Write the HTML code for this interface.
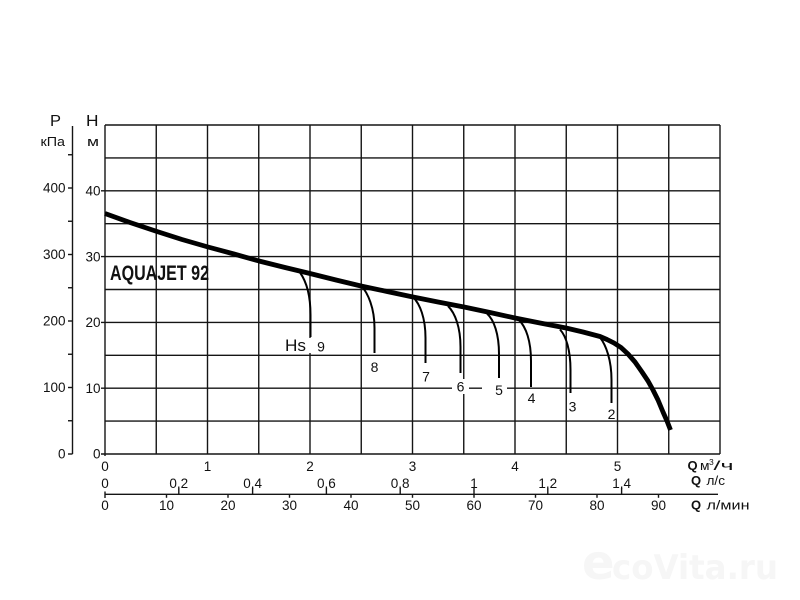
<!DOCTYPE html>
<html><head><meta charset="utf-8"><style>
html,body{margin:0;padding:0;background:#fff;}
svg{display:block;}
text{font-family:"Liberation Sans",Arial,sans-serif;fill:#111;}
</style></head><body>
<svg width="800" height="600" viewBox="0 0 800 600" xmlns="http://www.w3.org/2000/svg">
<rect width="800" height="600" fill="#fff"/>
<!-- watermark -->
<text x="582" y="579" font-size="48" font-weight="bold" style="font-family:'DejaVu Sans',sans-serif;fill:#f6f6f6">e</text>
<text x="612" y="579" font-size="34" font-weight="bold" textLength="166" lengthAdjust="spacingAndGlyphs" style="font-family:'DejaVu Sans',sans-serif;fill:#f6f6f6">coVita.ru</text>

<!-- grid -->
<g stroke="#151515" stroke-width="1.4" fill="none">
<line x1="105" y1="125" x2="105" y2="456"/>
<line x1="156.25" y1="125" x2="156.25" y2="454"/>
<line x1="207.5" y1="125" x2="207.5" y2="454"/>
<line x1="258.75" y1="125" x2="258.75" y2="454"/>
<line x1="310" y1="125" x2="310" y2="454"/>
<line x1="361.25" y1="125" x2="361.25" y2="454"/>
<line x1="412.5" y1="125" x2="412.5" y2="454"/>
<line x1="463.75" y1="125" x2="463.75" y2="454"/>
<line x1="515" y1="125" x2="515" y2="454"/>
<line x1="566.25" y1="125" x2="566.25" y2="454"/>
<line x1="617.5" y1="125" x2="617.5" y2="454"/>
<line x1="668.75" y1="125" x2="668.75" y2="454"/>
<line x1="720" y1="125" x2="720" y2="454"/>

<line x1="101" y1="454" x2="720" y2="454"/>
<line x1="105" y1="421.1" x2="720" y2="421.1"/>
<line x1="101" y1="388.2" x2="720" y2="388.2"/>
<line x1="105" y1="355.3" x2="720" y2="355.3"/>
<line x1="101" y1="322.4" x2="720" y2="322.4"/>
<line x1="105" y1="289.5" x2="720" y2="289.5"/>
<line x1="101" y1="256.6" x2="720" y2="256.6"/>
<line x1="105" y1="223.7" x2="720" y2="223.7"/>
<line x1="101" y1="190.8" x2="720" y2="190.8"/>
<line x1="105" y1="157.9" x2="720" y2="157.9"/>
<line x1="105" y1="125" x2="720" y2="125"/>

<!-- P axis -->
<line x1="72.5" y1="126" x2="72.5" y2="454"/>
<line x1="68" y1="454" x2="72.5" y2="454"/>
<line x1="68" y1="420.75" x2="72.5" y2="420.75"/>
<line x1="68" y1="387.5" x2="72.5" y2="387.5"/>
<line x1="68" y1="354.25" x2="72.5" y2="354.25"/>
<line x1="68" y1="321" x2="72.5" y2="321"/>
<line x1="68" y1="287.75" x2="72.5" y2="287.75"/>
<line x1="68" y1="254.5" x2="72.5" y2="254.5"/>
<line x1="68" y1="221.25" x2="72.5" y2="221.25"/>
<line x1="68" y1="188" x2="72.5" y2="188"/>
<line x1="68" y1="154.75" x2="72.5" y2="154.75"/>

<!-- bottom l/min axis -->
<line x1="105" y1="494.3" x2="718" y2="494.3"/>
<line x1="105" y1="491.5" x2="105" y2="498"/>
<line x1="166.5" y1="494.3" x2="166.5" y2="497.8"/>
<line x1="228" y1="494.3" x2="228" y2="497.8"/>
<line x1="289.5" y1="494.3" x2="289.5" y2="497.8"/>
<line x1="351" y1="494.3" x2="351" y2="497.8"/>
<line x1="412.5" y1="494.3" x2="412.5" y2="497.8"/>
<line x1="474" y1="494.3" x2="474" y2="497.8"/>
<line x1="535.5" y1="494.3" x2="535.5" y2="497.8"/>
<line x1="597" y1="494.3" x2="597" y2="497.8"/>
<line x1="658.5" y1="494.3" x2="658.5" y2="497.8"/>
<!-- l/s ticks -->
<line x1="178.8" y1="488" x2="178.8" y2="494.3"/>
<line x1="252.6" y1="488" x2="252.6" y2="494.3"/>
<line x1="326.4" y1="488" x2="326.4" y2="494.3"/>
<line x1="400.2" y1="488" x2="400.2" y2="494.3"/>
<line x1="474" y1="488" x2="474" y2="494.3"/>
<line x1="547.8" y1="488" x2="547.8" y2="494.3"/>
<line x1="621.6" y1="488" x2="621.6" y2="494.3"/>
</g>

<!-- white label boxes over grid -->
<rect x="452" y="379" width="17" height="15" fill="#fff"/>
<rect x="482" y="380" width="25" height="15" fill="#fff"/>
<rect x="280" y="338" width="50" height="15" fill="#fff"/>

<!-- main curve -->
<polyline fill="none" stroke="#000" stroke-width="4.8" stroke-linejoin="round"
points="105,213.5 130,222.5 157,231.5 182,239.5 208,247 234,254 259,261 285,267.5 310,273.5 336,280 361,286 387,291.5 413,297 438,302 464,307 490,312.5 515,318 540,323 566,328 583,332 600,336.5 607,339.5 614,343 621,347.5 628,354 635,362 642,372 648,381 653,390 658,400 663,412 667,421 670.5,430"/>

<!-- Hs curves -->
<g fill="none" stroke="#000" stroke-width="2">
<path d="M300,272.5 C306,281 310.5,295 310.5,315 L310.5,337"/>
<path d="M361,285.5 C368,293 374.5,308 374.5,328 L374.5,353"/>
<path d="M413,297 C420,304 425.5,318 425.5,338 L425.5,363"/>
<path d="M448,306 C455,313 460.5,327 460.5,347 L460.5,373"/>
<path d="M487,313.5 C494,320 499,334 499,354 L499,378"/>
<path d="M519,320 C526,327 531,341 531,361 L531,387"/>
<path d="M560,329.5 C566,336 570.5,350 570.5,370 L570.5,393"/>
<path d="M600,337.5 C606,345 611.5,360 611.5,380 L611.5,403"/>
</g>

<!-- curve labels -->
<g font-size="14" text-anchor="middle">
<text x="321" y="351.5">9</text>
<text x="374.5" y="372">8</text>
<text x="426" y="381.5">7</text>
<text x="460.5" y="391.5">6</text>
<text x="499" y="395">5</text>
<text x="531.5" y="403">4</text>
<text x="572.5" y="411.5">3</text>
<text x="611.5" y="419">2</text>
</g>
<text x="285" y="351" font-size="17" textLength="21" lengthAdjust="spacingAndGlyphs">Hs</text>

<text x="110" y="280" font-size="21" font-weight="bold" textLength="99" lengthAdjust="spacingAndGlyphs">AQUAJET 92</text>

<!-- axis titles -->
<text x="50" y="126" font-size="15.5" textLength="11" lengthAdjust="spacingAndGlyphs">P</text>
<text x="86" y="126" font-size="15.5" textLength="12.5" lengthAdjust="spacingAndGlyphs">H</text>
<text x="40.5" y="146" font-size="13" textLength="24.5" lengthAdjust="spacingAndGlyphs">кПа</text>
<text x="87" y="146" font-size="13" textLength="12" lengthAdjust="spacingAndGlyphs">м</text>

<!-- P labels -->
<g font-size="13.5" text-anchor="end">
<text x="65.5" y="458.7">0</text>
<text x="65.5" y="392.2">100</text>
<text x="65.5" y="325.7">200</text>
<text x="65.5" y="259.2">300</text>
<text x="65.5" y="192.7">400</text>
</g>
<!-- H labels -->
<g font-size="13.5" text-anchor="end">
<text x="100.5" y="458.7">0</text>
<text x="100.5" y="392.9">10</text>
<text x="100.5" y="327.1">20</text>
<text x="100.5" y="261.3">30</text>
<text x="100.5" y="195.5">40</text>
</g>

<!-- bottom row 1 m3/h -->
<g font-size="13.5" text-anchor="middle">
<text x="105" y="471">0</text>
<text x="207.5" y="471">1</text>
<text x="310" y="471">2</text>
<text x="412.5" y="471">3</text>
<text x="515" y="471">4</text>
<text x="617.5" y="471">5</text>
</g>
<!-- row 2 l/s -->
<g font-size="13.5" text-anchor="middle">
<text x="105" y="488">0</text>
<text x="178.8" y="488">0,2</text>
<text x="252.6" y="488">0,4</text>
<text x="326.4" y="488">0,6</text>
<text x="400.2" y="488">0,8</text>
<text x="474" y="488">1</text>
<text x="547.8" y="488">1,2</text>
<text x="621.6" y="488">1,4</text>
</g>
<!-- row 3 l/min -->
<g font-size="13.5" text-anchor="middle">
<text x="105" y="510">0</text>
<text x="166.5" y="510">10</text>
<text x="228" y="510">20</text>
<text x="289.5" y="510">30</text>
<text x="351" y="510">40</text>
<text x="412.5" y="510">50</text>
<text x="474" y="510">60</text>
<text x="535.5" y="510">70</text>
<text x="597" y="510">80</text>
<text x="658.5" y="510">90</text>
</g>

<!-- Q unit labels -->
<text x="687.5" y="470" font-size="13" font-weight="bold">Q</text>
<text x="700" y="470" font-size="13" textLength="9.5" lengthAdjust="spacingAndGlyphs">м</text>
<text x="709" y="465" font-size="8.5">3</text>
<text x="713.5" y="470" font-size="13" textLength="20" lengthAdjust="spacingAndGlyphs">/ч</text>

<text x="691" y="485" font-size="13" font-weight="bold">Q</text>
<text x="706.5" y="485" font-size="13" textLength="18.5" lengthAdjust="spacingAndGlyphs">л/с</text>

<text x="691" y="509.5" font-size="13" font-weight="bold">Q</text>
<text x="706.5" y="509.5" font-size="13" textLength="43" lengthAdjust="spacingAndGlyphs">л/мин</text>
</svg>
</body></html>
